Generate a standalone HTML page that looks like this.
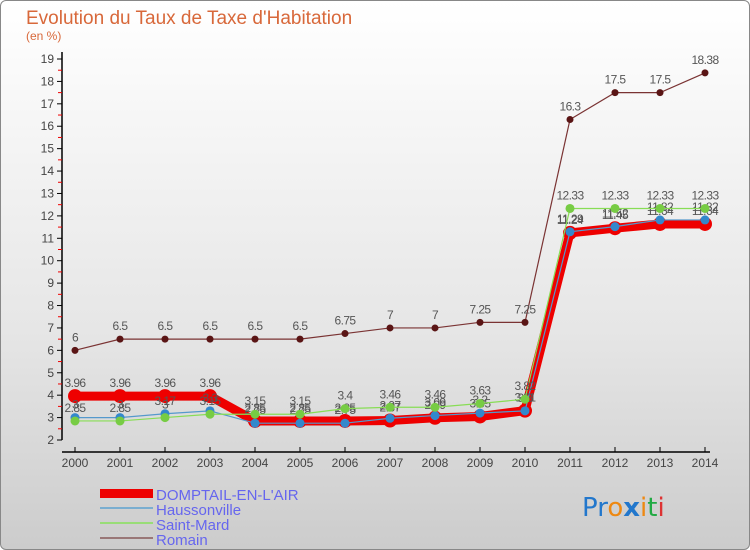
<!DOCTYPE html>
<html><head><meta charset="utf-8"><style>
body{margin:0;width:750px;height:550px;overflow:hidden;font-family:"Liberation Sans",sans-serif}
#wrap{position:relative;width:748px;height:548px;border:1px solid #888;border-radius:6px;background:linear-gradient(#ffffff 0%,#e6e6e6 60%,#cccccc 100%)}
</style></head><body>
<div id="wrap">
<svg id="chart" width="750" height="550" style="position:absolute;left:-1px;top:-1px">
<text x="26" y="24" font-size="19" fill="#d8683a">Evolution du Taux de Taxe d'Habitation</text>
<text x="26" y="40" font-size="12" fill="#d8683a">(en %)</text>
<g>
<rect x="100" y="489" width="53" height="9" fill="#e00"/>
<text x="156" y="500" font-size="15" fill="#6666ee">DOMPTAIL-EN-L'AIR</text>
<line x1="100" y1="508" x2="153" y2="508" stroke="#7aaed0" stroke-width="2"/>
<text x="156" y="515" font-size="15" fill="#6666ee">Haussonville</text>
<line x1="100" y1="523" x2="153" y2="523" stroke="#99dd77" stroke-width="2"/>
<text x="156" y="530" font-size="15" fill="#6666ee">Saint-Mard</text>
<line x1="100" y1="538" x2="153" y2="538" stroke="#997777" stroke-width="2"/>
<text x="156" y="545" font-size="15" fill="#6666ee">Romain</text>
</g>
<text x="582" y="516" font-size="26" font-family="'DejaVu Sans',sans-serif"><tspan fill="#2277cc">Pr</tspan><tspan fill="#ee8811">o</tspan><tspan fill="#2277cc" font-weight="bold">x</tspan><tspan fill="#ee8811">i</tspan><tspan fill="#22aa44">t</tspan><tspan fill="#dd3333">i</tspan></text>
</svg>
</div>
<script>
const years=[2000,2001,2002,2003,2004,2005,2006,2007,2008,2009,2010,2011,2012,2013,2014];
const yTicks=[2,3,4,5,6,7,8,9,10,11,12,13,14,15,16,17,18,19];
const romain=[6,6.5,6.5,6.5,6.5,6.5,6.75,7,7,7.25,7.25,16.3,17.5,17.5,18.38];
const saintMard=[2.85,2.85,3.0,3.15,3.15,3.15,3.4,3.46,3.46,3.63,3.82,12.33,12.33,12.33,12.33];
const haussonville=[3,3,3.17,3.3,2.75,2.75,2.75,2.97,3.09,3.2,3.3,11.29,11.52,11.82,11.82];
const domptail=[3.96,3.96,3.96,3.96,2.85,2.85,2.85,2.87,2.99,3.05,3.31,11.24,11.45,11.64,11.64];
const svg=document.getElementById('chart');const NS='http://www.w3.org/2000/svg';
const X0=75,XS=45,Y0=440,YS=(440-59)/17;
function xp(i){return X0+i*XS}
function yp(v){return Y0-(v-2)*YS}
function mk(t,a){const e=document.createElementNS(NS,t);for(const k in a)e.setAttribute(k,a[k]);svg.appendChild(e);return e}
let ax=mk('line',{x1:62,y1:52,x2:62,y2:yp(2),stroke:'#000','stroke-width':1.5});


let ax2=mk('line',{x1:62,y1:452,x2:710,y2:452,stroke:'#000','stroke-width':1.5});


yTicks.forEach(v=>{
 const t=mk('line',{x1:57,y1:yp(v),x2:62,y2:yp(v),stroke:'#000'});
 
 
 if(v<19){const m=mk('line',{x1:58,y1:yp(v+0.5),x2:62,y2:yp(v+0.5),stroke:'#e00'});
 
 }
 const l=mk('text',{x:54,y:yp(v)+4,'font-size':12,fill:'#444','text-anchor':'end'});l.textContent=v;
 
 
});
years.forEach((y,i)=>{
 const t=mk('line',{x1:xp(i),y1:447,x2:xp(i),y2:452,stroke:'#000'});
 
 
 const l=mk('text',{x:xp(i),y:467,'font-size':12,fill:'#444','text-anchor':'middle'});l.textContent=y;
 
 
});
function series(vals,color,w,r,dot,name){
 const p=mk('polyline',{points:vals.map((v,i)=>xp(i)+','+yp(v)).join(' '),fill:'none',stroke:color,'stroke-width':w});
 
 
 vals.forEach((v,i)=>{
  const c=mk('circle',{cx:xp(i),cy:yp(v),r:r,fill:dot});
  
  
  const l=mk('text',{x:xp(i),y:yp(v)-9,'font-size':12,fill:'#555','text-anchor':'middle','letter-spacing':'-0.6'});l.textContent=v;
  
  
 });
}
series(romain,'#7a3333',1.2,3.5,'#5a1515','romain');
series(domptail,'#ee0000',9,7,'#ee0000','domptail');
series(haussonville,'#5599cc',1.2,4.5,'#3388cc','haussonville');
series(saintMard,'#88dd55',1.2,4.5,'#77cc44','saint-mard');
</script>
</body></html>
